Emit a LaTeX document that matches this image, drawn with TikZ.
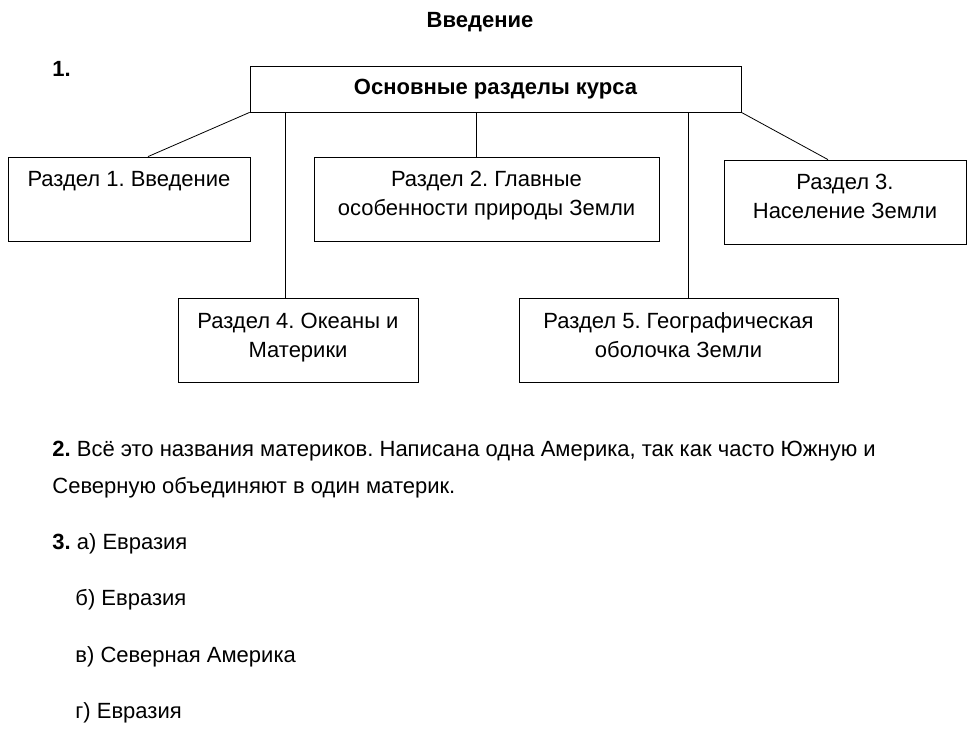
\documentclass[tikz,border=0pt]{standalone}
\usepackage{fontspec}
\setmainfont{Liberation Sans}
\usetikzlibrary{positioning,calc}
\frenchspacing

\begin{document}
\begin{tikzpicture}[x=1pt,y=-1pt,line width=0.8pt,
    razdel/.style={draw,inner sep=0pt},
    tekst/.style={inner sep=0pt,align=center,font=\fontsize{22}{29}\selectfont},
    otvet/.style={inner sep=0pt,anchor=base west,font=\fontsize{22}{29}\selectfont}]
				\useasboundingbox (0,0) rectangle (977,741);
				% schema
				\node at (480,28) [otvet,anchor=base] (title) {\bfseries Введение};
				\node at (52,77) [otvet] (n1) {\bfseries 1.};
				\node at (495.5,89) [razdel,minimum width=491,minimum height=46,
					font=\fontsize{22}{29}\selectfont\bfseries] (main) {Основные разделы курса};
				\node at (129,199) [razdel,minimum width=242,minimum height=84] (r1) {};
				\node at (486.5,199) [razdel,minimum width=345,minimum height=84] (r2) {};
				\node at (845,202) [razdel,minimum width=242,minimum height=84] (r3) {};
				\node at (298,340) [razdel,minimum width=240,minimum height=84] (r4) {};
				\node at (678.5,340) [razdel,minimum width=319,minimum height=84] (r5) {};
				\node at (129,186) [tekst,anchor=base] (t1) {Раздел 1. Введение};
				\node at (486.5,215) [tekst,anchor=base] (t2) {Раздел 2. Главные\\особенности природы Земли};
				\node at (845,218) [tekst,anchor=base] (t3) {Раздел 3.\\Население Земли};
				\node at (298,357) [tekst,anchor=base] (t4) {Раздел 4. Океаны и\\Материки};
				\node at (678.5,357) [tekst,anchor=base] (t5) {Раздел 5. Географическая\\оболочка Земли};
				\draw (main.south west) -- ([xshift=19pt]r1.north);
				\draw ([xshift=-13pt]r4.north |- main.south) -- ([xshift=-13pt]r4.north);
				\draw ([xshift=-10pt]r2.north |- main.south) -- ([xshift=-10pt]r2.north);
				\draw ([xshift=9.5pt]r5.north |- main.south) -- ([xshift=9.5pt]r5.north);
				\draw (main.south east) -- ([xshift=-17pt]r3.north);
				% answers
				\node at (52,456) [otvet] (a2) {\textbf{2.} Всё это названия материков. Написана одна Америка, так как часто Южную и};
				\node at (52,493) [otvet] (a2b) {Северную объединяют в один материк.};
				\node at (52,549) [otvet] (a3) {\textbf{3.} а) Евразия};
				\node at (75,605) [otvet] (a3b) {б) Евразия};
				\node at (75,662) [otvet] (a3c) {в) Северная Америка};
				\node at (75,718) [otvet] (a3d) {г) Евразия};
			\end{tikzpicture}
\end{document}
